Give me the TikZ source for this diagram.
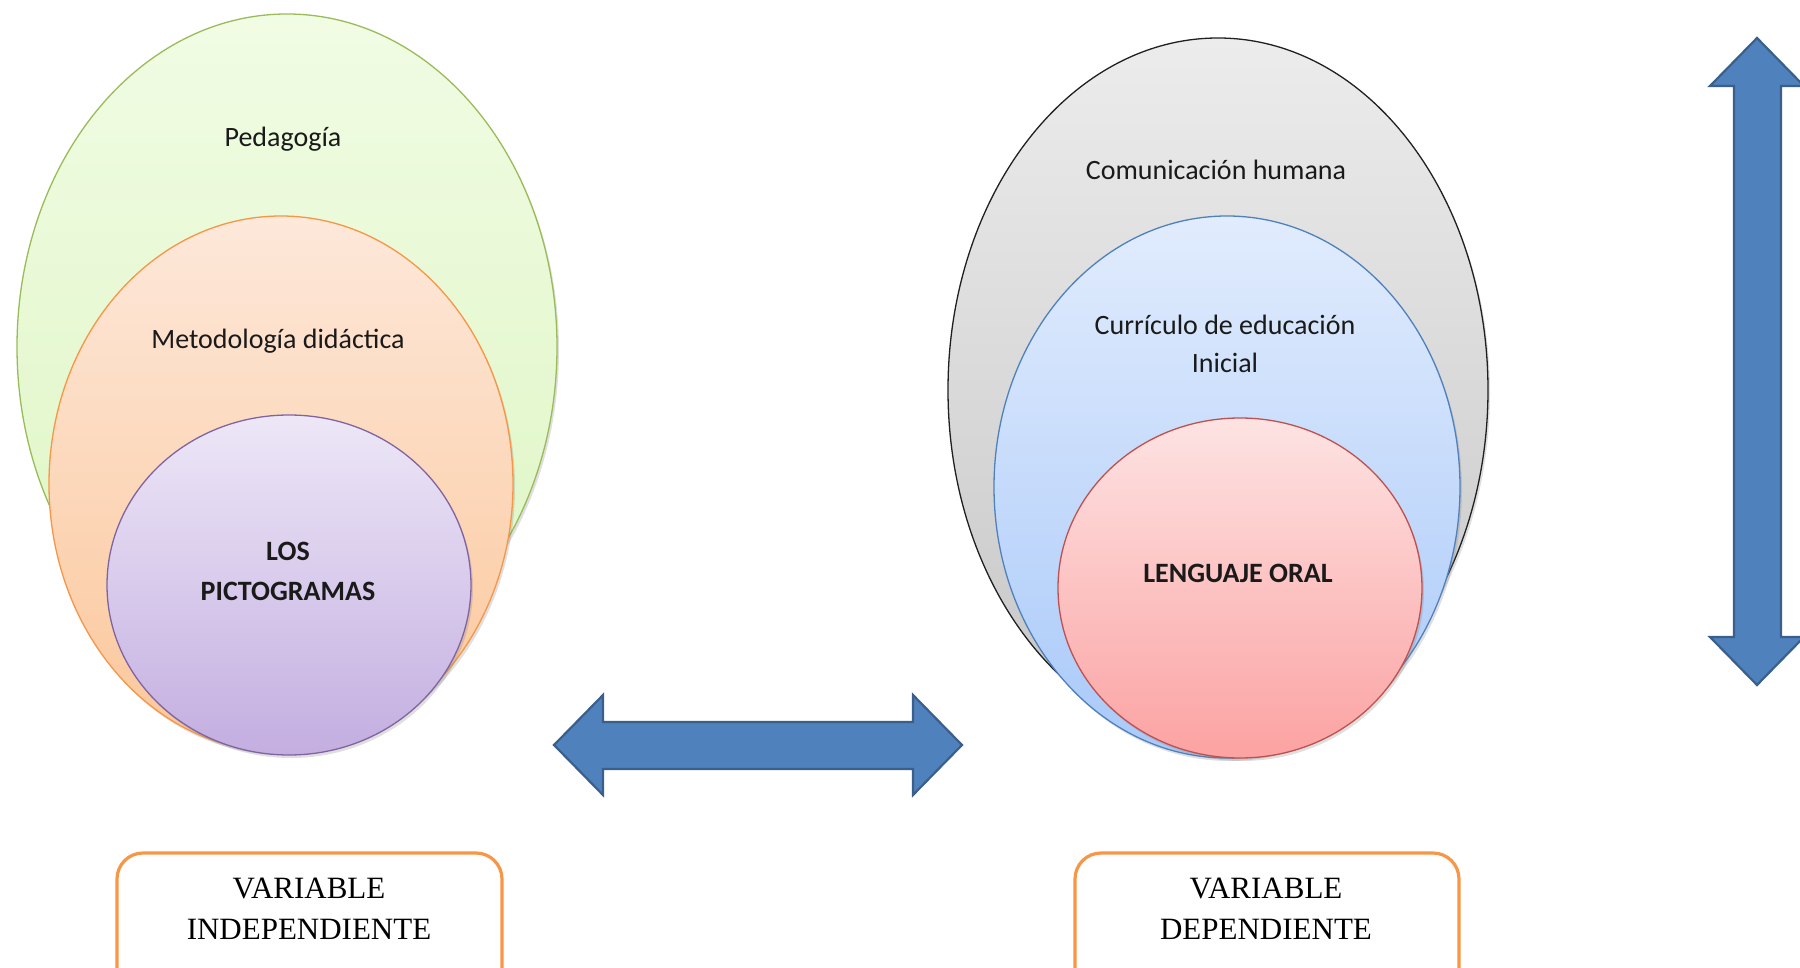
\documentclass[tikz,border=0pt]{standalone}
\usepackage{fontspec}
\setmainfont{Carlito}
\newfontfamily\timesf{Liberation Serif}
\usetikzlibrary{shapes.geometric,shadows}
\definecolor{grnB}{HTML}{9BBB59}
\definecolor{grnT}{HTML}{F1FCE4}
\definecolor{grnD}{HTML}{DDF5C2}
\definecolor{orB}{HTML}{F79646}
\definecolor{orT}{HTML}{FDE8DA}
\definecolor{orD}{HTML}{FBC79A}
\definecolor{puB}{HTML}{8064A2}
\definecolor{puT}{HTML}{EDE7F7}
\definecolor{puD}{HTML}{C3AEE0}
\definecolor{grB}{HTML}{202020}
\definecolor{grT}{HTML}{ECECEC}
\definecolor{grD}{HTML}{C6C6C6}
\definecolor{blB}{HTML}{4F81BD}
\definecolor{blT}{HTML}{E1ECFD}
\definecolor{blD}{HTML}{A9C9F9}
\definecolor{rdB}{HTML}{C0504D}
\definecolor{rdT}{HTML}{FDE3E3}
\definecolor{rdD}{HTML}{FCA2A2}
\definecolor{arF}{HTML}{4F81BD}
\definecolor{arB}{HTML}{3A5F8C}
\definecolor{txt}{HTML}{1A1A1A}
\tikzset{
  ell/.style={ellipse, inner sep=0pt, line width=1.3pt,
    drop shadow={opacity=0.25, shadow xshift=2pt, shadow yshift=-3pt}},
  lbl/.style={text=txt, font=\fontsize{28}{38}\selectfont, align=center, inner sep=0pt},
  blbl/.style={lbl, font=\fontsize{28}{40}\selectfont\bfseries},
  varbox/.style={draw=orB, line width=3.2pt, rounded corners=26pt, fill=white},
  vtxt/.style={text=black, font=\timesf\fontsize{31}{41}\selectfont, align=center, inner sep=0pt},
  bigarrow/.style={fill=arF, draw=arB, line width=2.2pt, line join=miter}
}
\begin{document}
\begin{tikzpicture}[x=1pt,y=-1pt]
\useasboundingbox (0,0) rectangle (1800,968);
% left set
\node[ell, draw=grnB, top color=grnT, bottom color=grnD, minimum width=540pt, minimum height=666pt] (ped) at (287,347) {};
\node[ell, draw=orB, top color=orT, bottom color=orD, minimum width=464pt, minimum height=536pt] (met) at (281,484) {};
\node[ell, draw=puB, top color=puT, bottom color=puD, minimum width=364pt, minimum height=340pt] (pic) at (289,585) {};
\node[lbl] (tped) at (283,139) {Pedagogía};
\node[lbl] (tmet) at (278,341) {Metodología didáctica};
\node[blbl] (tpic) at (288,571) {LOS\\PICTOGRAMAS};
% right set
\node[ell, draw=grB, top color=grT, bottom color=grD, minimum width=540pt, minimum height=704pt] (com) at (1218,390) {};
\node[ell, draw=blB, top color=blT, bottom color=blD, minimum width=466pt, minimum height=542pt] (cur) at (1227,487) {};
\node[ell, draw=rdB, top color=rdT, bottom color=rdD, minimum width=364pt, minimum height=340pt] (len) at (1240,588) {};
\node[lbl] (tcom) at (1216,170) {Comunicación humana};
\node[lbl] (tcur) at (1225,344) {Currículo de educación\\Inicial};
\node[blbl] (tlen) at (1238,573) {LENGUAJE ORAL};
% horizontal double arrow
\draw[bigarrow] (554,745) -- (603,695) -- (603,722) -- (913,722) -- (913,695)
  -- (962,745) -- (913,795) -- (913,769) -- (603,769) -- (603,795) -- cycle;
% vertical double arrow
\draw[bigarrow] (1757,38) -- (1804,86) -- (1781,86) -- (1781,637) -- (1804,637)
  -- (1757,685) -- (1710,637) -- (1734,637) -- (1734,86) -- (1710,86) -- cycle;
% variable boxes
\draw[varbox] (117,853) rectangle (502,1000);
\draw[varbox] (1075,853) rectangle (1459,1000);
\node[vtxt] (vind) at (309,909) {VARIABLE\\INDEPENDIENTE};
\node[vtxt] (vdep) at (1266,909) {VARIABLE\\DEPENDIENTE};
\end{tikzpicture}
\end{document}
